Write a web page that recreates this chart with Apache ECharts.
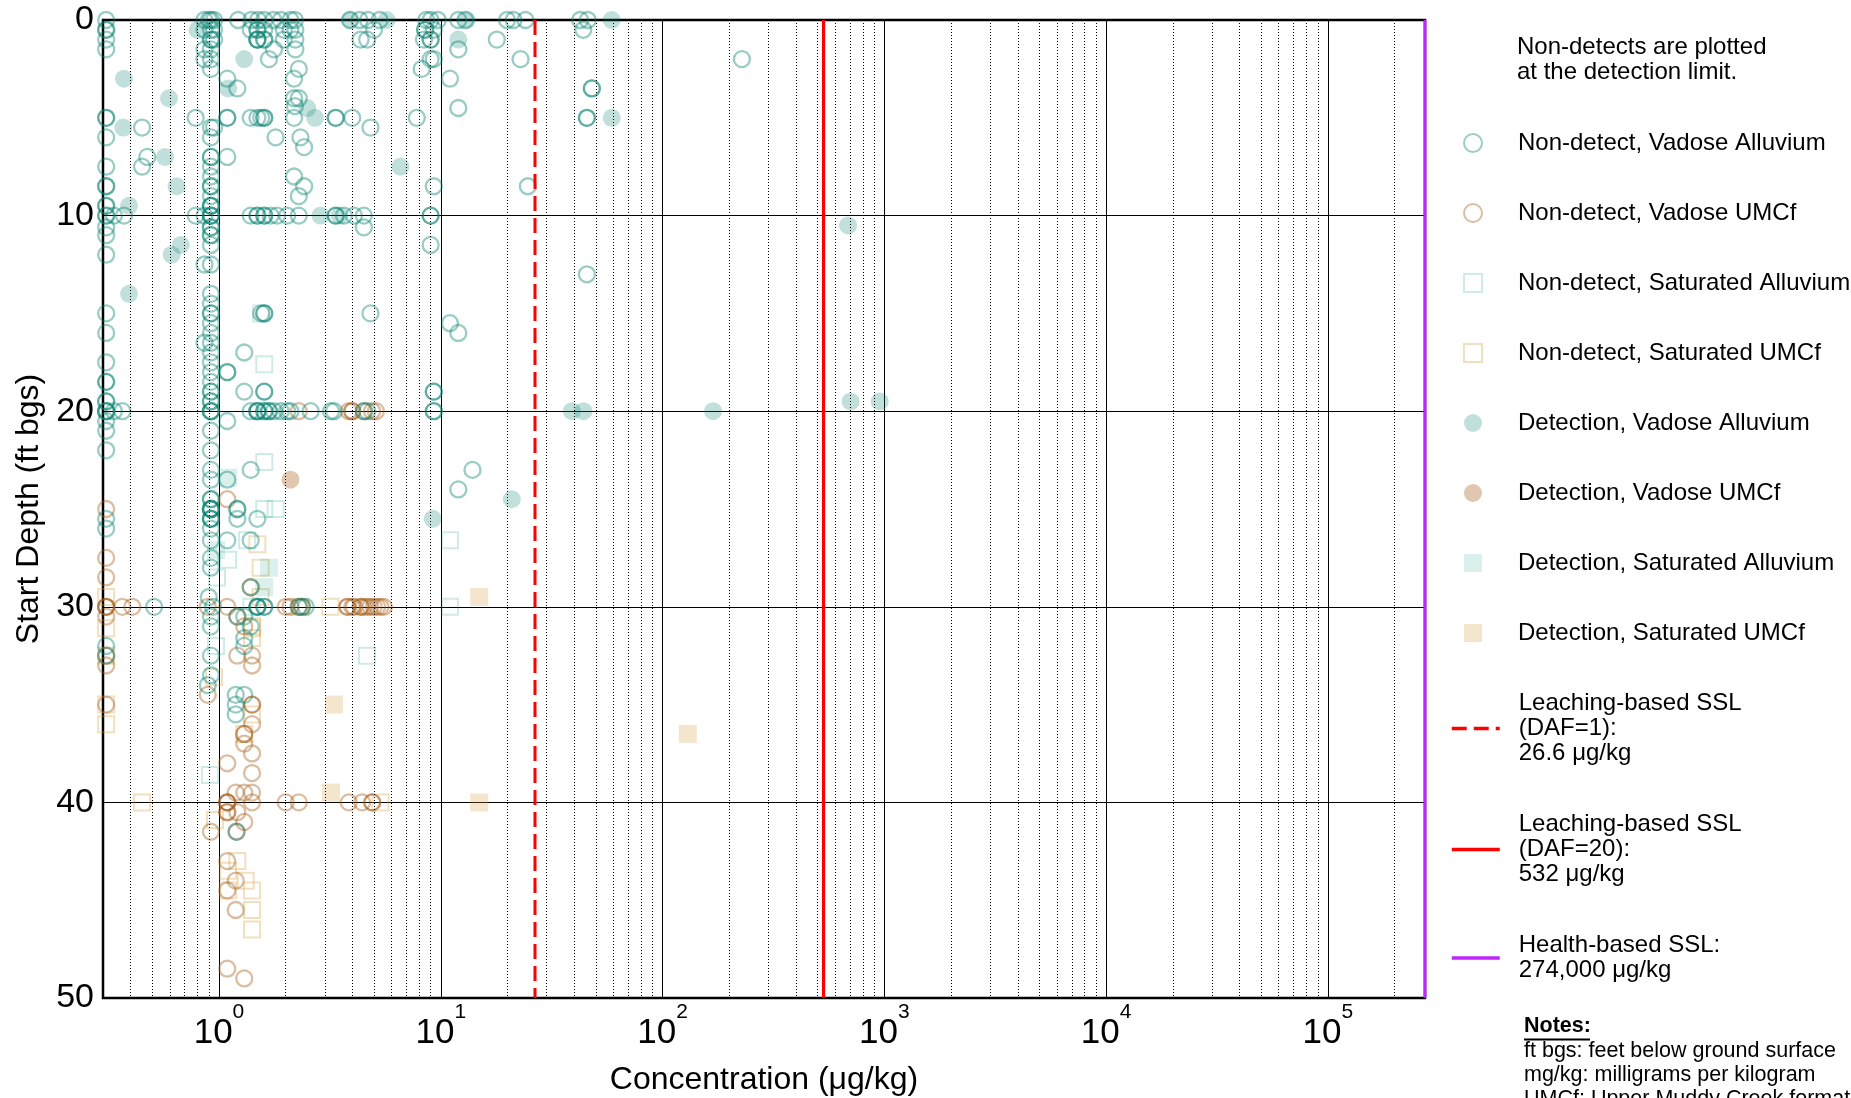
<!DOCTYPE html>
<html><head><meta charset="utf-8">
<script src="https://cdn.jsdelivr.net/npm/echarts@6/dist/echarts.min.js"></script>
<style>html,body{margin:0;padding:0;background:#fff}#c{width:1851px;height:1098px}</style>
</head><body><div id="c"></div>
<script>
// ---------- data: [concentration (ug/kg), start depth (ft bgs)] ----------
const ndVadoseAlluvium = [
[0.31,0],[0.86,0],[0.9,0],[0.92,0],[0.95,0],[1.22,0],[1.4,0],[1.5,0],[1.6,0],[1.76,0],[1.9,0],[2.1,0],[2.2,0],[3.9,0],[4.3,0],[4.7,0],[5.3,0],[8.6,0],[9.0,0],[9.7,0],[12,0],[12.9,0],[19.9,0],[21.3,0],[24.1,0],[42.5,0],[46,0],
[0.31,0.5],[0.31,0.5],[0.86,0.5],[0.92,0.5],[0.95,0.5],[1.39,0.5],[1.49,0.5],[1.49,0.5],[1.6,0.5],[1.96,0.5],[2.1,0.5],[2.21,0.5],[5.0,0.5],[8.5,0.5],[8.5,0.5],[9.3,0.5],[43.9,0.5],
[0.31,1],[0.92,1],[0.92,1],[0.95,1],[1.49,1],[1.49,1],[1.49,1],[1.6,1],[1.6,1],[1.96,1],[2.21,1],[4.35,1],[4.66,1],[8.4,1],[9.0,1],[9.0,1],[17.9,1],
[0.31,1.5],[0.86,1.5],[0.92,1.5],[1.77,1.5],[2.21,1.5],[12,1.5],
[0.86,2],[0.92,2],[1.68,2],[9.0,2],[9.3,2],[22.9,2],[228,2],
[0.92,2.5],[2.29,2.5],[8.2,2.5],
[1.09,3],[2.18,3],[11,3],
[1.21,3.5],[48,3.5],[48,3.5],
[2.18,4],[2.29,4],[12,4.5],[2.2,4.4],
[0.31,5],[0.31,5],[0.785,5],[1.09,5],[1.09,5],[1.39,5],[1.49,5],[1.55,5],[1.6,5],[1.6,5],[2.18,5],[3.36,5],[3.36,5],[3.99,5],[7.8,5],[45.6,5],[45.6,5],
[0.45,5.5],[0.95,5.5],[0.92,5.5],[4.82,5.5],
[0.31,6],[0.92,6],[1.8,6],[2.33,6],[2.42,6.5],
[0.475,7],[1.09,7],[0.92,7],[0.92,7],
[0.45,7.5],[0.31,7.5],[0.92,7.5],
[2.18,8],[0.92,8],
[0.31,8.5],[0.31,8.5],[0.92,8.5],[0.92,8.5],[2.42,8.5],[9.3,8.5],[24.7,8.5],
[2.29,9],[0.92,9],
[0.31,9.5],[0.31,9.5],[0.92,9.5],[0.92,9.5],[0.92,9.5],
[0.31,10],[0.31,10],[0.336,10],[0.373,10],[0.785,10],[0.86,10],[0.92,10],[0.92,10],[0.92,10],[1.39,10],[1.49,10],[1.49,10],[1.6,10],[1.6,10],[1.71,10],[1.83,10],[2.03,10],[2.29,10],[3.36,10],[3.36,10],[3.66,10],[4.06,10],[4.5,10],[9.0,10],[9.0,10],
[0.31,10.6],[0.92,10.6],[0.92,10.6],[4.5,10.6],
[0.31,11],[0.92,11],[0.92,11],
[0.92,11.5],[9.0,11.5],[0.31,12],[0.92,12.5],[0.86,12.5],[45.6,13],
[0.92,14],[0.92,14.5],
[0.31,15],[0.92,15],[0.92,15],[1.55,15],[1.6,15],[1.6,15],[4.82,15],
[11,15.5],[0.92,15.5],[0.31,16],[12,16],[0.92,16],
[0.92,16.5],[0.86,16.5],[0.92,17],[1.3,17],
[0.31,17.5],[0.92,17.5],[1.09,18],[1.09,18],[0.92,18],
[0.31,18.5],[0.31,18.5],[0.92,18.5],
[0.92,19],[0.92,19],[1.3,19],[1.6,19],[1.6,19],[9.3,19],[9.3,19],
[0.31,19.5],[0.31,19.5],[0.92,19.5],[0.92,19.5],
[0.31,20],[0.31,20],[0.31,20],[0.336,20],[0.367,20],[0.92,20],[0.92,20],[0.92,20],[1.39,20],[1.49,20],[1.49,20],[1.49,20],[1.6,20],[1.6,20],[1.68,20],[1.68,20],[1.77,20],[1.9,20],[2.03,20],[2.1,20],[2.59,20],[3.2,20],[3.3,20],[4.5,20],[4.66,20],[9.3,20],[9.3,20],
[0.31,20.5],[1.09,20.5],[0.31,21],[0.92,21],[0.31,22],[0.92,22],
[0.92,23],[1.39,23],[13.9,23],[0.92,23.5],[1.09,23.5],[12,24],
[0.92,24.5],[0.92,24.5],
[0.92,25],[0.92,25],[0.92,25],[0.92,25],[1.21,25],[1.21,25],
[0.31,25.5],[0.92,25.5],[0.92,25.5],[0.92,25.5],[1.21,25.5],[1.49,25.5],
[0.31,26],[0.92,26],[0.92,26.6],[1.09,26.6],[1.39,26.6],
[0.92,27.5],[0.92,28],[1.39,29],[0.9,29.5],
[0.94,30],[0.51,30],[1.49,30],[1.49,30],[1.49,30],[1.6,30],[1.6,30],[2.29,30],[2.37,30],[2.46,30],
[0.92,30.5],[1.21,30.5],[1.3,30.5],[0.92,31],[1.39,31],[1.3,31.6],
[0.31,32],[1.3,32],[0.31,32.5],[0.92,32.5],[0.92,33.5],
[0.89,34],[1.19,34.5],[1.3,34.5],[1.19,35],[1.19,35.5],[1.2,41.5]
];
const ndVadoseUMCf = [
[2.29,20],[3.85,20],[3.99,20],[3.99,20],[4.5,20],[4.9,20],[5.1,20],
[1.09,24.5],[0.31,25],[0.31,27.5],[0.31,28.5],
[0.31,30],[0.31,30],[0.31,30],[0.367,30],[0.407,30],[0.89,30],[1.09,30],[2.0,30],[2.1,30],[2.29,30],[2.37,30],[3.79,30],[3.79,30],[3.99,30],[4.06,30],[4.35,30],[4.35,30],[4.5,30],[4.66,30],[4.82,30],[4.99,30],[5.17,30],[5.35,30],[5.54,30],
[0.31,30.5],[1.21,30.5],[1.3,31],[0.31,32.5],[1.21,32.5],[1.41,32.5],[0.31,33],[1.41,33],
[0.89,34.5],[0.31,35],[1.41,35],[1.41,35],[1.41,36],[1.3,36.5],[1.3,36.5],[1.3,37],[1.41,37.5],[1.09,38],[1.41,38.5],
[1.19,39.5],[1.3,39.5],[1.41,39.5],[1.09,40],[1.09,40],[1.09,40],[1.41,40],[2.0,40],[2.29,40],[3.85,40],[4.42,40],[4.91,40],[4.91,40],
[1.09,40.5],[1.09,40.5],[1.21,40.5],[1.3,41],[0.92,41.5],[1.2,41.5],[1.39,29],
[1.09,43],[1.19,44],[1.09,44.5],[1.19,45.5],[1.09,48.5],[1.3,49]
];
const ndSaturatedAlluvium = [
[1.55,15],[1.6,17.6],[1.6,22.6],[1.6,25],[1.8,25],[11,26.6],[11,30],[4.65,32.5],[1.1,27.6],[1.34,26.6],[0.98,28.5],[0.97,32],[0.91,38.6],[1.4,30]
];
const ndSaturatedUMCf = [
[0.31,29.5],[0.31,31.1],[0.31,32.5],[0.31,35],[0.31,36],[1.49,26.8],[1.54,28],[1.54,29.5],[3.18,30],[2.33,30],[1.41,31.1],[1.41,31.6],[0.95,33.6],[0.45,40],[0.96,40.9],[1.21,43],[1.32,44],[1.41,44.5],[1.41,45.5],[1.41,46.5],[1.1,44.5],[1.1,43.5],[1.3,36.5],[5.35,40],[1.41,35.5],[1.41,31]
];
const detVadoseAlluvium = [
[0.373,3.0],[0.595,4.0],[0.37,5.5],[0.571,7.0],[0.644,8.5],[0.393,9.5],[0.672,11.5],[0.612,12.0],[0.393,14.0],[0.8,0.5],[1.3,2.0],[1.1,3.5],[2.5,4.5],[2.71,5.0],[6.58,7.5],[12,1.0],[3.9,0],[5.7,0],[13.1,0],[59,0],[59,5.0],[686,10.5],[39,20],[44,20],[169,20],[705,19.5],[953,19.5],[9.2,25.5],[20.9,24.5],[2.87,10],[3.5,10]
];
const detVadoseUMCf = [[2.1,23.5]];
const detSaturatedAlluvium = [[0.97,27.1],[1.68,28],[1.6,29],[1.1,23.4]];
const detSaturatedUMCf = [[14.9,29.5],[3.3,35],[3.2,39.5],[14.9,40],[130,36.5]];

const sslValues = [26.6, 532, 274000];           // DAF=1, DAF=20, health-based
const sslNames = ['Leaching-based SSL\n(DAF=1):\n26.6 μg/kg','Leaching-based SSL\n(DAF=20):\n532 μg/kg','Health-based SSL:\n274,000 μg/kg'];
const depthRange = [0, 50];
const xRange = [0.3, 274000];
const seriesNames = ['Non-detect, Vadose Alluvium','Non-detect, Vadose UMCf','Non-detect, Saturated Alluvium','Non-detect, Saturated UMCf','Detection, Vadose Alluvium','Detection, Vadose UMCf','Detection, Saturated Alluvium','Detection, Saturated UMCf'];

// ---------- chart ----------
const FONT = "'Liberation Sans', Arial, Helvetica, sans-serif";
const chart = echarts.init(document.getElementById('c'), null, {renderer:'canvas'});

// minor (2..9) log grid positions: axis structure
const minorLines = [];
for (let k = -1; k <= 5; k++) for (let m = 2; m <= 9; m++) {
  const v = +(m * Math.pow(10, k)).toPrecision(6);
  if (v > xRange[0] && v < xRange[1]) minorLines.push({xAxis: v});
}

const teal = a => 'rgba(0,128,110,' + a + ')';
const brown = a => 'rgba(165,90,20,' + a + ')';
const lteal = a => 'rgba(0,150,130,' + a + ')';
const tan = a => 'rgba(210,160,60,' + a + ')';

function scat(name, data, symbol, size, fill, stroke, bw, z) {
  return {name, type:'scatter', data, symbol, symbolSize:size, z, silent:true,
    itemStyle:{color:fill, borderColor:stroke, borderWidth:bw}};
}
const clear = 'rgba(0,0,0,0)';

const series = [
  {name:'minor-grid', type:'scatter', data:[], z:1, silent:true,
   markLine:{symbol:['none','none'], silent:true, animation:false, label:{show:false},
     lineStyle:{color:'#000', width:1, type:[1,2]}, emphasis:{disabled:true}, data:minorLines}},
  scat(seriesNames[3], ndSaturatedUMCf, 'rect', 16, clear, tan(0.4), 2, 2),
  scat(seriesNames[2], ndSaturatedAlluvium, 'rect', 16, clear, lteal(0.24), 2, 2),
  scat(seriesNames[7], detSaturatedUMCf, 'rect', 18, tan(0.32), clear, 0, 2),
  scat(seriesNames[6], detSaturatedAlluvium, 'rect', 18, lteal(0.18), clear, 0, 2),
  scat(seriesNames[1], ndVadoseUMCf, 'circle', 16, clear, brown(0.5), 2.3, 3),
  scat(seriesNames[0], ndVadoseAlluvium, 'circle', 16, clear, teal(0.5), 2.3, 3),
  scat(seriesNames[5], detVadoseUMCf, 'circle', 18, brown(0.42), clear, 0, 3),
  scat(seriesNames[4], detVadoseAlluvium, 'circle', 18, teal(0.3), clear, 0, 3)
];
const lineStyles = [
  {color:'#FF0000', width:3, type:[15,7]},
  {color:'#FF0000', width:3.2, type:'solid'},
  {color:'#BF26FF', width:3, type:'solid'}
];
sslValues.forEach((v, i) => series.push({
  name: sslNames[i], type:'line', data: depthRange.map(d => [v, d]), symbol:'none', showSymbol:false,
  clip:false, z:6, silent:true, lineStyle: lineStyles[i], itemStyle:{color: lineStyles[i].color}
}));

chart.setOption({
  animation:false,
  backgroundColor:'#fff',
  title:{text:'Non-detects are plotted\nat the detection limit.', left:1517, top:34.5, padding:0,
    textStyle:{fontFamily:FONT, fontSize:24, lineHeight:25, fontWeight:'normal', color:'#000'}},
  grid:{left:103, right:426, top:20, bottom:100, show:true, borderColor:'#000', borderWidth:2.5, backgroundColor:'#fff',
    containLabel:false, outerBoundsMode:'none'},
  xAxis:{type:'log', logBase:10, min:xRange[0], max:xRange[1],
    name:'Concentration (μg/kg)', nameLocation:'middle', nameGap:66,
    nameTextStyle:{fontFamily:FONT, fontSize:32, color:'#000'},
    axisLine:{show:false}, axisTick:{show:false},
    splitLine:{show:true, lineStyle:{color:'#000', width:1}},
    axisLabel:{margin:4, showMinLabel:false, showMaxLabel:false,
      formatter: v => { const e = Math.log10(v), r = Math.round(e); return Math.abs(e - r) > 1e-6 ? '' : '{b|10}{s|' + r + '}'; },
      rich:{ b:{fontFamily:FONT, fontSize:35, lineHeight:49, verticalAlign:'bottom', color:'#000'},
             s:{fontFamily:FONT, fontSize:21, lineHeight:21, verticalAlign:'top', color:'#000'} } }
  },
  yAxis:{type:'value', inverse:true, min:depthRange[0], max:depthRange[1], interval:10,
    name:'Start Depth (ft bgs)', nameLocation:'middle', nameGap:58, nameRotate:90,
    nameTextStyle:{fontFamily:FONT, fontSize:32, color:'#000'},
    axisLine:{show:false}, axisTick:{show:false},
    splitLine:{show:true, lineStyle:{color:'#000', width:1.2}},
    axisLabel:{margin:9, fontFamily:FONT, fontSize:34, color:'#000'}
  },
  legend:[
    {data:seriesNames, orient:'vertical', left:1463, top:130.5, padding:0, itemWidth:18, itemHeight:18, itemGap:45,
     selectedMode:false, textStyle:{fontFamily:FONT, fontSize:24, lineHeight:25, color:'#000', padding:[0,0,0,31]}},
    {data:sslNames, orient:'vertical', left:1450, top:691, padding:0, itemWidth:48, itemHeight:10, itemGap:46,
     selectedMode:false, itemStyle:{opacity:0}, lineStyle:{width:3.5},
     textStyle:{fontFamily:FONT, fontSize:24, lineHeight:25, color:'#000', padding:[0,0,0,14]}}
  ],
  graphic:[
    {type:'text', left:1524, top:1015, style:{text:'Notes:', font:'bold 21.5px ' + FONT, fill:'#000'}},
    {type:'line', shape:{x1:1524, y1:1039.5, x2:1590, y2:1039.5}, style:{stroke:'#000', lineWidth:2}},
    {type:'text', left:1524, top:1039, style:{text:'ft bgs: feet below ground surface\nmg/kg: milligrams per kilogram\nUMCf: Upper Muddy Creek formation', font:'21.5px ' + FONT, lineHeight:24, fill:'#000'}}
  ],
  series
});
</script></body></html>
